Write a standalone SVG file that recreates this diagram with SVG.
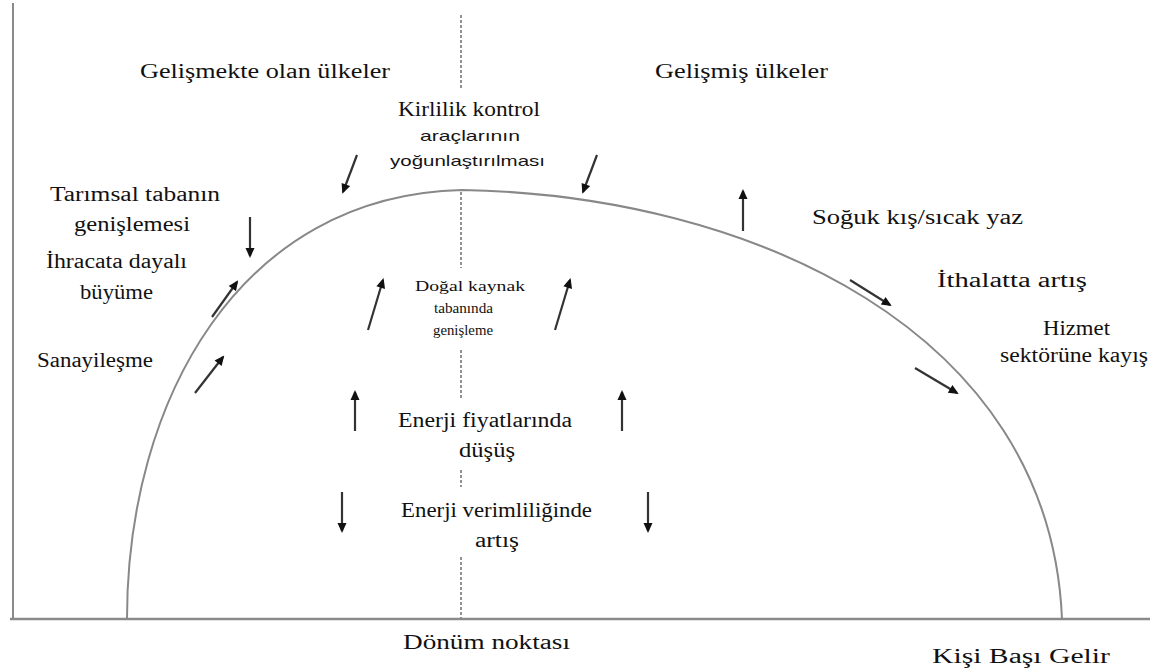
<svg xmlns="http://www.w3.org/2000/svg" width="1153" height="670" viewBox="0 0 1153 670">
<style>
.t{font-family:"Liberation Serif","Times New Roman",serif;font-size:20px;fill:#111;text-anchor:start}
.s{font-family:"Liberation Sans",Arial,sans-serif;font-size:15px;fill:#151515}
.m{font-family:"Liberation Serif","Times New Roman",serif;font-size:15px;fill:#111}
.ar{stroke:#333;stroke-width:2.2;fill:none;marker-end:url(#ah)}
.ax{stroke:#8a8a8a;fill:none}
</style>
<defs>
<marker id="ah" viewBox="0 0 10 10" refX="8" refY="5" markerWidth="11" markerHeight="10" markerUnits="userSpaceOnUse" orient="auto">
<path d="M0,0.5 L10,5 L0,9.5 z" fill="#111"/>
</marker>
</defs>
<rect width="1153" height="670" fill="#fff"/>
<g id="axes">
<line class="ax" x1="13" y1="3" x2="13" y2="619" stroke-width="2"/>
<line class="ax" x1="10" y1="619" x2="1150" y2="619" stroke-width="2.5"/>
</g>
<g id="curve">
<path d="M127,619 C127,400 240,195 462,190 C750,195 1050,330 1062,619" fill="none" stroke="#888" stroke-width="2"/>
</g>
<g id="turning-line" stroke="#777" stroke-width="1.6" stroke-dasharray="3 2" fill="none">
<line x1="461" y1="15" x2="461" y2="88"/>
<line x1="461" y1="192" x2="461" y2="268"/>
<line x1="461" y1="350" x2="461" y2="398"/>
<line x1="461" y1="470" x2="461" y2="487"/>
<line x1="461" y1="557" x2="461" y2="618"/>
</g>
<g id="connectors">
<line class="ar" x1="357" y1="155" x2="343" y2="192"/>
<line class="ar" x1="597" y1="155" x2="583" y2="192"/>
<line class="ar" x1="250" y1="217" x2="250" y2="256"/>
<line class="ar" x1="212" y1="317" x2="237" y2="282"/>
<line class="ar" x1="195" y1="393" x2="223" y2="357"/>
<line class="ar" x1="368" y1="330" x2="383" y2="280"/>
<line class="ar" x1="555" y1="330" x2="570" y2="280"/>
<line class="ar" x1="355" y1="431" x2="355" y2="392"/>
<line class="ar" x1="622" y1="431" x2="622" y2="392"/>
<line class="ar" x1="342" y1="492" x2="342" y2="531"/>
<line class="ar" x1="648" y1="492" x2="648" y2="531"/>
<line class="ar" x1="743" y1="231" x2="743" y2="191"/>
<line class="ar" x1="850" y1="280" x2="890" y2="305"/>
<line class="ar" x1="915" y1="368" x2="957" y2="393"/>
</g>
<g id="n-gelismekte"><text class="t" x="140" y="78" textLength="250" lengthAdjust="spacingAndGlyphs">Gelişmekte olan ülkeler</text></g>
<g id="n-gelismis"><text class="t" x="655" y="78" textLength="173" lengthAdjust="spacingAndGlyphs">Gelişmiş ülkeler</text></g>
<g id="n-kirlilik">
<text class="t" x="398" y="116" textLength="142" lengthAdjust="spacingAndGlyphs">Kirlilik kontrol</text>
<text class="s" x="420" y="141" textLength="100" lengthAdjust="spacingAndGlyphs">araçlarının</text>
<text class="s" x="390" y="166" textLength="155" lengthAdjust="spacingAndGlyphs">yoğunlaştırılması</text>
</g>
<g id="n-tarimsal">
<text class="t" x="50" y="201" textLength="170" lengthAdjust="spacingAndGlyphs">Tarımsal  tabanın</text>
<text class="t" x="74" y="231" textLength="116" lengthAdjust="spacingAndGlyphs">genişlemesi</text>
</g>
<g id="n-ihracat">
<text class="t" x="46" y="268" textLength="141" lengthAdjust="spacingAndGlyphs">İhracata dayalı</text>
<text class="t" x="80" y="299" textLength="73" lengthAdjust="spacingAndGlyphs">büyüme</text>
</g>
<g id="n-sanayi"><text class="t" x="37" y="367" textLength="116" lengthAdjust="spacingAndGlyphs">Sanayileşme</text></g>
<g id="n-dogal">
<text class="m" x="415" y="291" textLength="110" lengthAdjust="spacingAndGlyphs">Doğal kaynak</text>
<text class="m" x="434" y="313" textLength="59" lengthAdjust="spacingAndGlyphs">tabanında</text>
<text class="m" x="433" y="335" textLength="60" lengthAdjust="spacingAndGlyphs">genişleme</text>
</g>
<g id="n-fiyat">
<text class="t" x="398" y="427" textLength="174" lengthAdjust="spacingAndGlyphs">Enerji fiyatlarında</text>
<text class="t" x="459" y="457" textLength="56" lengthAdjust="spacingAndGlyphs">düşüş</text>
</g>
<g id="n-verim">
<text class="t" x="401" y="517" textLength="191" lengthAdjust="spacingAndGlyphs">Enerji verimliliğinde</text>
<text class="t" x="475" y="547" textLength="44" lengthAdjust="spacingAndGlyphs">artış</text>
</g>
<g id="n-soguk"><text class="t" x="812" y="224" textLength="211" lengthAdjust="spacingAndGlyphs">Soğuk kış/sıcak yaz</text></g>
<g id="n-ithalat"><text class="t" x="937" y="287" textLength="150" lengthAdjust="spacingAndGlyphs">İthalatta artış</text></g>
<g id="n-hizmet">
<text class="t" x="1043" y="335" textLength="67" lengthAdjust="spacingAndGlyphs">Hizmet</text>
<text class="t" x="1000" y="362" textLength="148" lengthAdjust="spacingAndGlyphs">sektörüne kayış</text>
</g>
<g id="n-donum"><text class="t" x="403" y="649" textLength="167" lengthAdjust="spacingAndGlyphs">Dönüm noktası</text></g>
<g id="n-kisi"><text class="t" x="932" y="663" textLength="178" lengthAdjust="spacingAndGlyphs">Kişi Başı Gelir</text></g>
</svg>
